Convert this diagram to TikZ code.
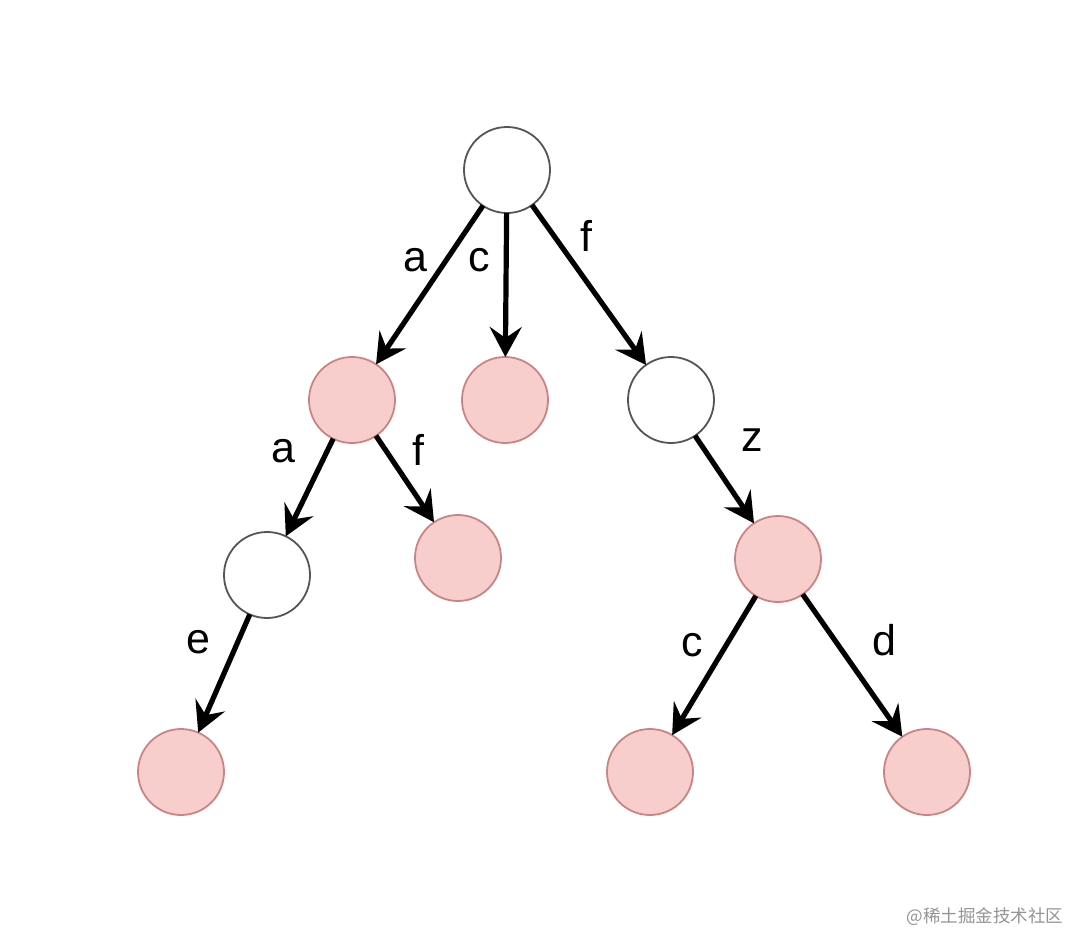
\documentclass[tikz,border=0pt]{standalone}
\usepackage{fontspec}
\setmainfont{Liberation Sans}
\newfontfamily\cjkfont{Noto Sans CJK SC}
\usetikzlibrary{arrows.meta}
\definecolor{pinkfill}{HTML}{F8CECC}
\definecolor{pinkline}{HTML}{C98583}
\definecolor{whiteline}{HTML}{555555}
\tikzset{
  vnode/.style={circle, minimum size=86pt, inner sep=0pt, outer sep=0pt, line width=1.8pt},
  wnode/.style={vnode, draw=whiteline, fill=white},
  pnode/.style={vnode, draw=pinkline, fill=pinkfill},
  edge/.style={line width=5.2pt, -{Stealth[length=30pt, width=32pt, inset=11pt]}},
  elabel/.style={inner sep=0pt, font=\fontsize{43}{50}\selectfont}
}
\begin{document}
\begin{tikzpicture}[x=1pt, y=-1pt]
\useasboundingbox[fill=white] (0,0) rectangle (1072,934);
\node[wnode] (root) at (507,170) {};
\node[pnode] (na) at (352,400) {};
\node[pnode] (nc) at (505,400) {};
\node[wnode] (nf) at (671,400) {};
\node[wnode] (naa) at (267,575) {};
\node[pnode] (naf) at (458,558) {};
\node[pnode] (nfz) at (778,559) {};
\node[pnode] (ne) at (181,772) {};
\node[pnode] (nfc) at (650,772) {};
\node[pnode] (nfd) at (927,772) {};
\draw[edge] (root) -- (na);
\draw[edge] (root) -- (nc);
\draw[edge] (root) -- (nf);
\draw[edge] (na) -- (naa);
\draw[edge] (na) -- (naf);
\draw[edge] (nf) -- (nfz);
\draw[edge] (naa) -- (ne);
\draw[edge] (nfz) -- (nfc);
\draw[edge] (nfz) -- (nfd);
\node[elabel] (la1) at (415,260) {a};
\node[elabel] (lc1) at (479,260) {c};
\node[elabel] (lf1) at (586,236) {f};
\node[elabel] (la2) at (283,451) {a};
\node[elabel] (lf2) at (418,450) {f};
\node[elabel] (lz) at (752,440) {z};
\node[elabel] (le) at (198,642) {e};
\node[elabel] (lc2) at (692,645) {c};
\node[elabel] (ld) at (884,640) {d};
\node[inner sep=0pt, text=black!42, font=\cjkfont\fontsize{17.5}{20}\selectfont] (wm) at (985,917) {@稀土掘金技术社区};
\end{tikzpicture}
\end{document}
